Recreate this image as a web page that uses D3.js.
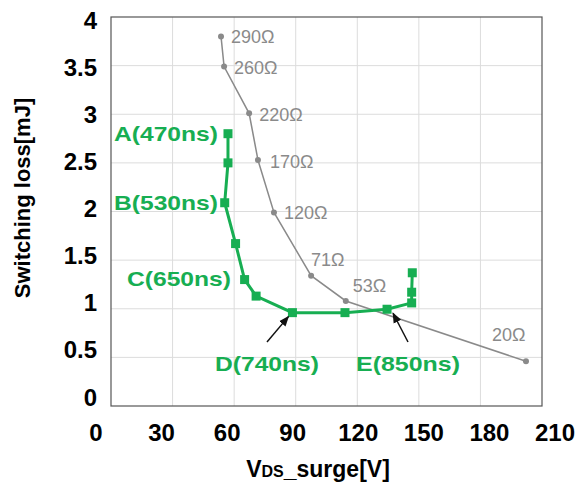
<!DOCTYPE html>
<html>
<head>
<meta charset="utf-8">
<script src="https://cdn.jsdelivr.net/npm/d3@7"></script>
<style>
  body { margin: 0; background: #fff; }
  text { font-family: "Liberation Sans", Arial, sans-serif; }
</style>
</head>
<body>
<div id="chart"></div>
<script>
// gate resistance sweep (gray)
const rLabels = ['290Ω', '260Ω', '220Ω', '170Ω', '120Ω', '71Ω', '53Ω', '20Ω'];
const rVds = [53.6, 55.1, 67.3, 71.6, 79.4, 97.5, 114.4, 202.2];
const rLoss = [3.80, 3.49, 3.01, 2.53, 1.99, 1.34, 1.08, 0.46];

// switching timing sweep (green)
const tVds = [57.0, 57.0, 55.4, 60.7, 65.1, 70.7, 88.4, 114.0, 134.5, 146.5, 146.5, 146.8];
const tLoss = [2.80, 2.50, 2.09, 1.67, 1.30, 1.13, 0.96, 0.96, 0.995, 1.06, 1.17, 1.37];

const xTicks = [0, 30, 60, 90, 120, 150, 180, 210];
const yTicks = [0, 0.5, 1, 1.5, 2, 2.5, 3, 3.5, 4];

const width = 579, height = 486;
const margin = {left: 111, top: 17, right: 37, bottom: 80};
const green = '#17ae52', gray = '#8a8a8a';

const svg = d3.select('#chart').append('svg')
              .attr('width', width)
              .attr('height', height);

const x = d3.scaleLinear().domain([0, 210]).range([margin.left, width - margin.right]);
const y = d3.scaleLinear().domain([0, 4]).range([height - margin.bottom, margin.top]);
// tick labels in the original sit slightly off the gridlines
const xl = d3.scaleLinear().domain([0, 210]).range([96, 555]);
const yl = d3.scaleLinear().domain([0, 4]).range([397, 20]);

// grid
svg.append('g')
   .selectAll('line')
   .data(xTicks.slice(1, -1))
   .enter().append('line')
   .attr('x1', d => x(d)).attr('x2', d => x(d))
   .attr('y1', y(0)).attr('y2', y(4))
   .attr('stroke', '#dcdcdc').attr('stroke-width', 1);
svg.append('g')
   .selectAll('line')
   .data(yTicks.slice(1, -1))
   .enter().append('line')
   .attr('x1', x(0)).attr('x2', x(210))
   .attr('y1', d => y(d)).attr('y2', d => y(d))
   .attr('stroke', '#dcdcdc').attr('stroke-width', 1);

svg.append('rect')
   .attr('x', x(0)).attr('y', y(4))
   .attr('width', x(210) - x(0)).attr('height', y(0) - y(4))
   .attr('fill', 'none').attr('stroke', '#555').attr('stroke-width', 1.2);

// tick labels
svg.append('g')
   .selectAll('text')
   .data(xTicks)
   .enter().append('text')
   .attr('x', d => xl(d)).attr('y', 432)
   .attr('text-anchor', 'middle').attr('dominant-baseline', 'central')
   .attr('font-size', 24).attr('font-weight', 'bold')
   .text(d => d);
svg.append('g')
   .selectAll('text')
   .data(yTicks)
   .enter().append('text')
   .attr('x', 97).attr('y', d => yl(d))
   .attr('text-anchor', 'end').attr('dominant-baseline', 'central')
   .attr('font-size', 24).attr('font-weight', 'bold')
   .text(d => d);

// axis titles
svg.append('text')
   .attr('transform', 'translate(22,198) rotate(-90)')
   .attr('text-anchor', 'middle').attr('dominant-baseline', 'central')
   .attr('font-size', 22).attr('font-weight', 'bold')
   .text('Switching loss[mJ]');
const xt = svg.append('text')
   .attr('x', 318).attr('y', 477)
   .attr('text-anchor', 'middle')
   .attr('font-size', 23).attr('font-weight', 'bold');
xt.append('tspan').text('V');
xt.append('tspan').attr('font-size', 16).text('DS');
xt.append('tspan').text('_surge[V]');

// gray series
const rData = rVds.map((v, i) => ({x: v, y: rLoss[i], label: rLabels[i]}));
const line = d3.line().x(d => x(d.x)).y(d => y(d.y));
svg.append('path')
   .datum(rData)
   .attr('d', line)
   .attr('fill', 'none').attr('stroke', gray).attr('stroke-width', 1.5);
svg.append('g')
   .selectAll('circle')
   .data(rData)
   .enter().append('circle')
   .attr('cx', d => x(d.x)).attr('cy', d => y(d.y))
   .attr('r', 3).attr('fill', gray);

// label offsets for the resistance values
const rOff = [[10, 1], [10, 1], [10, 2], [12, 2], [10, 1], [0, -16], [7, -15], [-34, -26]];
svg.append('g')
   .selectAll('text')
   .data(rData)
   .enter().append('text')
   .attr('x', (d, i) => x(d.x) + rOff[i][0])
   .attr('y', (d, i) => y(d.y) + rOff[i][1])
   .attr('dominant-baseline', 'central')
   .attr('font-size', 18).attr('fill', gray)
   .text(d => d.label);

// green series
const tData = tVds.map((v, i) => ({x: v, y: tLoss[i]}));
svg.append('path')
   .datum(tData)
   .attr('d', line)
   .attr('fill', 'none').attr('stroke', green).attr('stroke-width', 3);
svg.append('g')
   .selectAll('rect')
   .data(tData)
   .enter().append('rect')
   .attr('x', d => x(d.x) - 4.5).attr('y', d => y(d.y) - 4.5)
   .attr('width', 9).attr('height', 9)
   .attr('fill', green);

// annotations
const notes = [
    {text: 'A(470ns)', x: 218, y: 133, anchor: 'end'},
    {text: 'B(530ns)', x: 218, y: 202, anchor: 'end'},
    {text: 'C(650ns)', x: 231, y: 278, anchor: 'end'},
    {text: 'D(740ns)', x: 215, y: 363, anchor: 'start'},
    {text: 'E(850ns)', x: 356, y: 363, anchor: 'start'}
];
svg.append('g')
   .selectAll('text')
   .data(notes)
   .enter().append('text')
   .attr('x', d => d.x).attr('y', d => d.y)
   .attr('text-anchor', d => d.anchor).attr('dominant-baseline', 'central')
   .attr('font-size', 21).attr('font-weight', 'bold').attr('fill', green)
   .attr('textLength', 104).attr('lengthAdjust', 'spacingAndGlyphs')
   .text(d => d.text);

svg.append('defs').append('marker')
   .attr('id', 'arr')
   .attr('viewBox', '0 0 10 10')
   .attr('refX', 9).attr('refY', 5)
   .attr('markerWidth', 7).attr('markerHeight', 7)
   .attr('orient', 'auto-start-reverse')
   .append('path').attr('d', 'M0,1 L10,5 L0,9 z').attr('fill', '#111');

// arrows point from label to marker D (index 6) and E (index 8)
[[6, 267, 342], [8, 408, 342]].forEach(([i, sx, sy]) => {
    svg.append('line')
       .attr('x1', sx).attr('y1', sy)
       .attr('x2', x(tVds[i]) + (i === 6 ? -4 : 6)).attr('y2', y(tLoss[i]) + 4)
       .attr('stroke', '#111').attr('stroke-width', 1.5)
       .attr('marker-end', 'url(#arr)');
});
</script>
</body>
</html>
